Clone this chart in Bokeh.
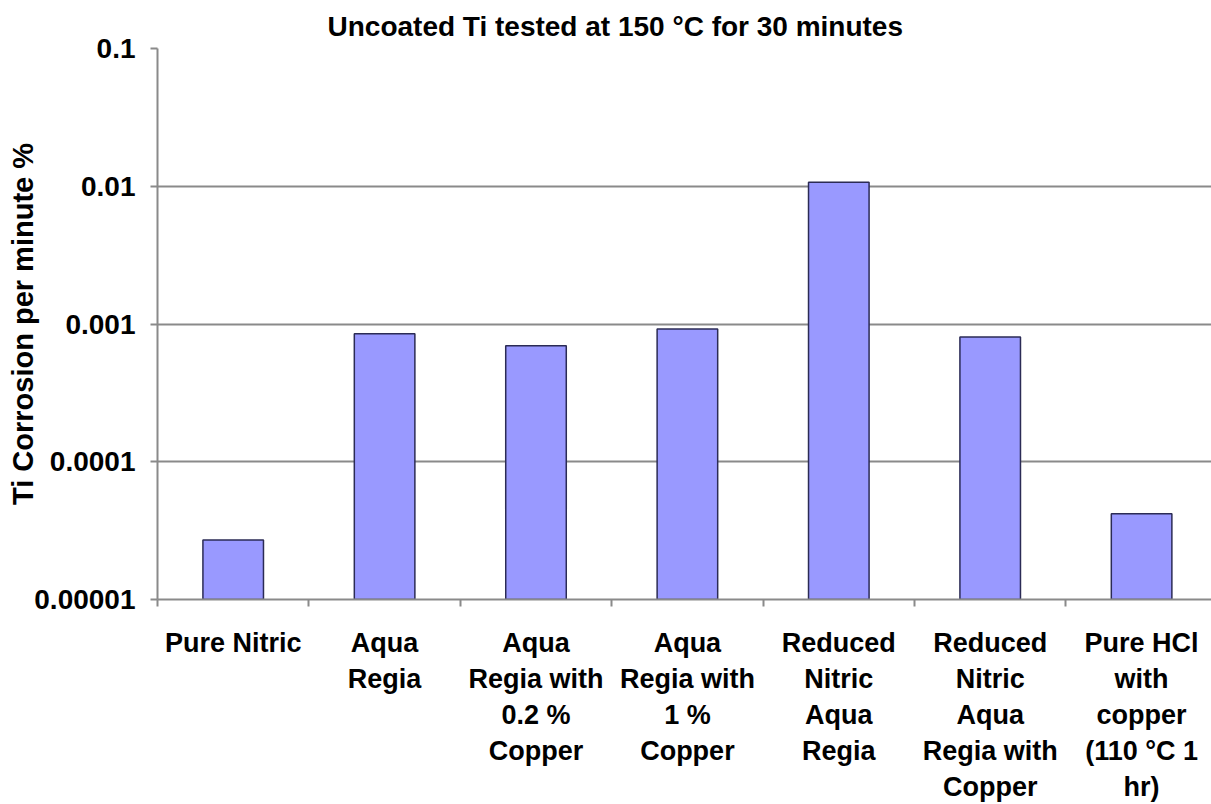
from bokeh.plotting import figure
from bokeh.models import Range1d, FixedTicker, ColumnDataSource
from bokeh.embed import file_html
from bokeh.resources import INLINE

# ---- data ----
categories = [
    "Pure Nitric",
    "Aqua\nRegia",
    "Aqua\nRegia with\n0.2 %\nCopper",
    "Aqua\nRegia with\n1 %\nCopper",
    "Reduced\nNitric\nAqua\nRegia",
    "Reduced\nNitric\nAqua\nRegia with\nCopper",
    "Pure HCl\nwith\ncopper\n(110 °C 1\nhr)",
]
corrosion = [2.7e-5, 8.5e-4, 6.95e-4, 9.2e-4, 1.07e-2, 8.05e-4, 4.2e-5]
y_ticks = [1e-5, 1e-4, 1e-3, 1e-2, 1e-1]
y_tick_labels = ["0.00001", "0.0001", "0.001", "0.01", "0.1"]
title_text = "Uncoated Ti tested at 150 °C for 30 minutes"
y_title = "Ti Corrosion per minute %"

# ---- layout ----
W, H = 1211, 804
LEFT, TOP = 157, 48
FRAME_BOTTOM = 600
CAT_PX = 151.4
x_end = (W - LEFT) / CAT_PX
FONT = "Liberation Sans"
GRID = "#8a8a8a"

n = len(categories)
centers = [i + 0.5 for i in range(n)]
src = ColumnDataSource(dict(x=centers, top=corrosion, bottom=[y_ticks[0]] * n))

p = figure(width=W, height=H, y_axis_type="log",
           x_range=Range1d(0, x_end), y_range=Range1d(y_ticks[0], y_ticks[-1]),
           output_backend="svg", toolbar_location=None,
           min_border_left=LEFT, min_border_right=0,
           min_border_top=TOP, min_border_bottom=H - FRAME_BOTTOM)
p.outline_line_color = None
p.background_fill_color = "white"
p.border_fill_color = "white"

p.vbar(x="x", top="top", bottom="bottom", width=0.4, source=src,
       fill_color="#9999ff", line_color="#2b2b55", line_width=1.5)

# y axis
yax = p.yaxis[0]
yax.ticker = FixedTicker(ticks=y_ticks, minor_ticks=[])
yax.major_label_overrides = dict(zip(y_ticks, y_tick_labels))
yax.major_label_text_font = FONT
yax.major_label_text_font_style = "bold"
yax.major_label_text_font_size = "28px"
yax.major_label_text_color = "black"
yax.major_label_standoff = 15
yax.major_tick_out = 7
yax.major_tick_in = 0
yax.major_tick_line_color = GRID
yax.major_tick_line_width = 2
yax.minor_tick_line_color = None
yax.axis_line_color = GRID
yax.axis_line_width = 2
yax.axis_label = y_title
yax.axis_label_text_font = FONT
yax.axis_label_text_font_style = "bold"
yax.axis_label_text_font_size = "29px"
yax.axis_label_text_color = "black"
yax.axis_label_standoff = -8

# x axis
xax = p.xaxis[0]
xax.ticker = FixedTicker(ticks=centers, minor_ticks=list(range(n + 1)))
xax.major_label_overrides = dict(zip(centers, categories))
xax.major_label_text_font = FONT
xax.major_label_text_font_style = "bold"
xax.major_label_text_font_size = "27px"
xax.major_label_text_color = "black"
xax.major_label_text_line_height = 1.2
xax.major_label_standoff = 21
xax.major_tick_line_color = None
xax.major_tick_out = 0
xax.major_tick_in = 0
xax.minor_tick_out = 7
xax.minor_tick_in = 0
xax.minor_tick_line_color = GRID
xax.minor_tick_line_width = 2
xax.axis_line_color = GRID
xax.axis_line_width = 2

p.xgrid.visible = False
p.ygrid.ticker = FixedTicker(ticks=y_ticks, minor_ticks=[])
p.ygrid.grid_line_color = GRID
p.ygrid.grid_line_width = 2

# chart title (above)
p.title.text = title_text
p.title.align = "left"
p.title.offset = 170
p.title.standoff = 14
p.title.text_font = FONT
p.title.text_font_style = "bold"
p.title.text_font_size = "28px"
p.title.text_color = "black"

open("out.html", "w").write(file_html(p, INLINE))
